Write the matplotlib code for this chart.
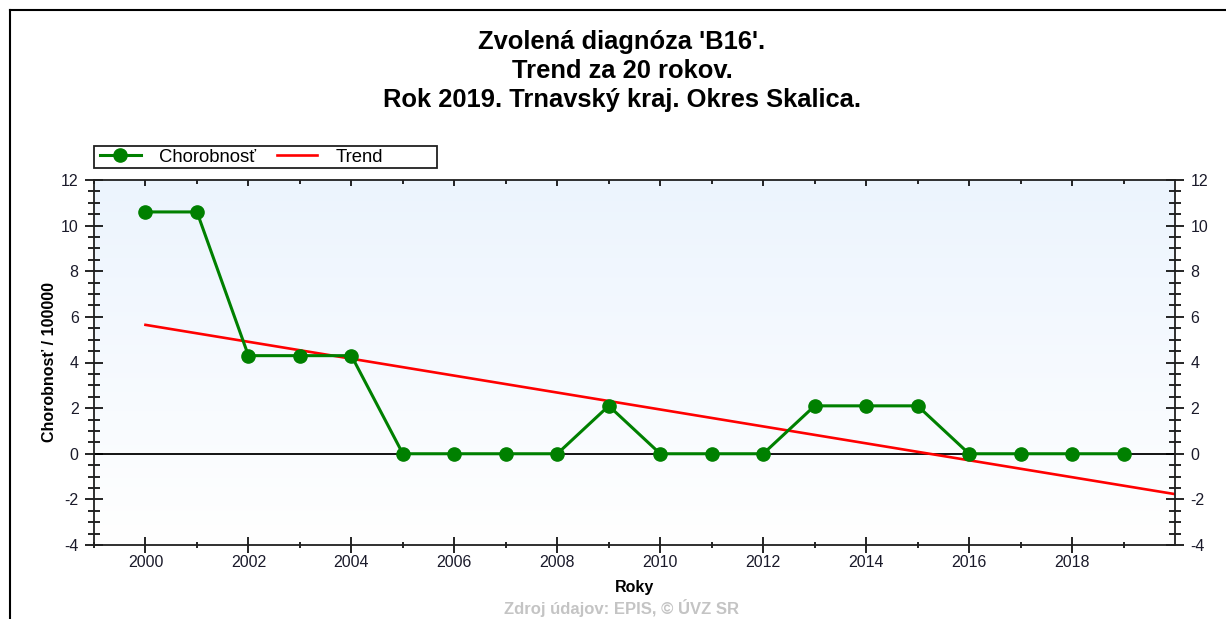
import matplotlib
matplotlib.use("Agg")
import matplotlib.pyplot as plt
import numpy as np
from matplotlib.lines import Line2D
from matplotlib.patches import Rectangle
from matplotlib.ticker import MultipleLocator, FixedLocator

plt.rcParams['font.family'] = ['Liberation Sans', 'DejaVu Sans']
plt.rcParams['axes.unicode_minus'] = False

# ---- data ----
years = [2000, 2001, 2002, 2003, 2004, 2005, 2006, 2007, 2008, 2009,
         2010, 2011, 2012, 2013, 2014, 2015, 2016, 2017, 2018, 2019]
chorobnost = [10.6, 10.6, 4.3, 4.3, 4.3, 0, 0, 0, 0, 2.1,
              0, 0, 0, 2.1, 2.1, 2.1, 0, 0, 0, 0]
trend_years = [2000, 2020]
trend_values = [5.65, -1.77]
x_tick_years = [2000, 2002, 2004, 2006, 2008, 2010, 2012, 2014, 2016, 2018]
x_minor_years = [1999, 2001, 2003, 2005, 2007, 2009, 2011, 2013, 2015, 2017, 2019]
title_lines = ["Zvolená diagnóza 'B16'.", "Trend za 20 rokov.",
               "Rok 2019. Trnavský kraj. Okres Skalica."]
series_labels = ["Chorobnosť", "Trend"]
y_label = "Chorobnosť / 100000"
x_label = "Roky"
source_text = "Zdroj údajov: EPIS, © ÚVZ SR"

W, H = 1226, 619
fig = plt.figure(figsize=(W / 100, H / 100), dpi=100)
fig.patch.set_facecolor('white')

def fx(px):
    return px / W

def fy(py):
    return 1 - py / H

ax = fig.add_axes([fx(94), fy(545), fx(1175) - fx(94), fy(180) - fy(545)])
ax.set_xlim(1999, 2020)
ax.set_ylim(-4, 12)

# gradient background
grad = np.linspace(0, 1, 256).reshape(-1, 1)
top = np.array([0.925, 0.957, 0.995])
bot = np.array([1.0, 1.0, 1.0])
img = top[None, None, :] * (1 - grad[:, :, None]) + bot[None, None, :] * grad[:, :, None]
ax.imshow(img, extent=[0, 1, 0, 1], transform=ax.transAxes, aspect='auto', zorder=0)

ax.axhline(0, color='black', lw=1.3, zorder=1)
ax.plot(trend_years, trend_values, color='#ff0000', lw=1.9, zorder=2, label=series_labels[1])
ax.plot(years, chorobnost, color='#008000', lw=2.2, marker='o', markersize=9.5,
        zorder=3, label=series_labels[0])

for s in ax.spines.values():
    s.set_linewidth(1.3)
    s.set_color('#202020')

ax.xaxis.set_major_locator(FixedLocator(x_tick_years))
ax.xaxis.set_minor_locator(FixedLocator(x_minor_years))
ax.yaxis.set_major_locator(MultipleLocator(2))
ax.yaxis.set_minor_locator(MultipleLocator(0.5))

ax.tick_params(axis='x', which='major', direction='inout', length=11, width=1.2,
               labelsize=11.5, pad=2.0, top=True, labelcolor='#1a1a2a')
ax.tick_params(axis='x', which='minor', direction='inout', length=5, width=1.2, top=True)
ax.tick_params(axis='y', which='major', direction='inout', length=13, width=1.2,
               labelsize=11.5, pad=4.5, right=True, labelright=True, labelcolor='#1a1a2a')
ax.tick_params(axis='y', which='minor', direction='inout', length=9, width=1.2, right=True)

# top ticks: inward only
for t in ax.xaxis.get_major_ticks():
    t.tick2line.set_marker(3)
    t.tick2line.set_markersize(4)
for t in ax.xaxis.get_minor_ticks():
    t.tick2line.set_marker(3)
    t.tick2line.set_markersize(3)

ax.set_xlabel(x_label, fontsize=11.5, fontweight='bold', labelpad=7)
ax.set_ylabel(y_label, fontsize=11.5, fontweight='bold', labelpad=3)

# legend
handles, labels = ax.get_legend_handles_labels()
order = [1, 0]
leg = fig.legend([handles[i] for i in order], [labels[i] for i in order],
                 loc='center left', bbox_to_anchor=(fx(100), fy(157)), ncol=2,
                 frameon=False, fontsize=13.3, handlelength=2.2, handletextpad=1.0,
                 columnspacing=1.1, borderaxespad=0, borderpad=0)
fig.add_artist(Rectangle((fx(94), fy(168)), fx(437) - fx(94), fy(146) - fy(168),
                         transform=fig.transFigure, fill=False, edgecolor='#202020', lw=1.3))

# title
for i, line in enumerate(title_lines):
    fig.text(fx(622), fy(42 + i * 29), line, ha='center', va='center',
             fontsize=18.4, fontweight='bold', color='black')

# source
fig.text(fx(622), fy(614), source_text, ha='center', va='baseline',
         fontsize=12, fontweight='bold', color='#c4c4c4')

# outer frame
fig.add_artist(Line2D([fx(10), fx(10)], [fy(10), 0], transform=fig.transFigure,
                      color='black', lw=1.5))
fig.add_artist(Line2D([fx(10), 1], [fy(10), fy(10)], transform=fig.transFigure,
                      color='black', lw=1.5))

fig.savefig('out.png', dpi=100)
